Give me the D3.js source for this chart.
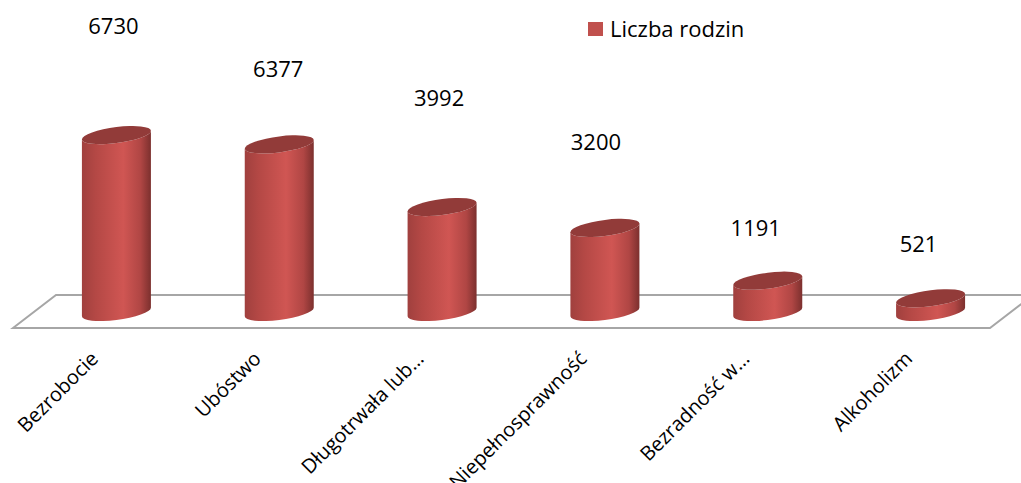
<!DOCTYPE html>
<html>
<head>
<meta charset="utf-8">
<script src="https://cdn.jsdelivr.net/npm/d3@7"></script>
<style>
  html, body { margin: 0; padding: 0; background: #fff; }
  svg { display: block; font-family: "Open Sans", sans-serif; }
</style>
</head>
<body>
<svg id="chart" width="1021" height="483"></svg>
<script>
const categories = ["Bezrobocie", "Ubóstwo", "Długotrwała lub…", "Niepełnosprawność", "Bezradność w…", "Alkoholizm"];
const values = [6730, 6377, 3992, 3200, 1191, 521];
const seriesName = "Liczba rodzin";
// where Excel dropped each data label, relative to the top of its cylinder
const labelShift = [[-3, -101], [-1, -67], [-3, -101], [-9, -78], [-12, -45], [-12, -46]];

const width = 1021, height = 483;
const svg = d3.select("#chart");

const x = d3.scaleBand().domain(categories).range([35, 1012]).padding(0);
const y = d3.scaleLinear().domain([0, 7000]).range([312, 128]);

const rx = 34.5, ry = 8, shear = 0.125;

// gradient for the cylinder body
const defs = svg.append("defs");
const grad = defs.append("linearGradient").attr("id", "cyl").attr("x1", 0).attr("x2", 1).attr("y1", 0).attr("y2", 0);
[[0, "#a0403e"], [0.2, "#b44845"], [0.6, "#d05653"], [0.85, "#b04644"], [1, "#7c302e"]]
  .forEach(([o, c]) => grad.append("stop").attr("offset", o).attr("stop-color", c));

// floor
const floor = { backY: 295, frontY: 328, left: 13, right: 990, depth: 43 };
svg.append("path")
  .attr("d", `M${floor.left},${floor.frontY} L${floor.left + floor.depth},${floor.backY} L${floor.right + floor.depth},${floor.backY} L${floor.right},${floor.frontY} Z`)
  .attr("fill", "#fff")
  .attr("stroke", "#a6a6a6")
  .attr("stroke-width", 2);

// cylinders
const bars = svg.append("g").selectAll("g")
  .data(categories.map((c, i) => ({ c, v: values[i], i })))
  .join("g")
  .attr("transform", d => `translate(${x(d.c) + x.bandwidth() / 2},${y(0)}) matrix(1,${-shear},0,1,0,0)`);

bars.append("path")
  .attr("fill", "url(#cyl)")
  .attr("d", d => {
    const h = y(0) - y(d.v);
    return `M${-rx},${-h} L${-rx},0 A${rx},${ry} 0 0 0 ${rx},0 L${rx},${-h} A${rx},${ry} 0 0 1 ${-rx},${-h} Z`;
  });

bars.append("ellipse")
  .attr("cx", 0)
  .attr("cy", d => y(d.v) - y(0))
  .attr("rx", rx)
  .attr("ry", ry)
  .attr("fill", "#923b39");

// data labels
svg.append("g").selectAll("text")
  .data(categories.map((c, i) => ({ c, v: values[i], i })))
  .join("text")
  .attr("x", d => x(d.c) + x.bandwidth() / 2 + labelShift[d.i][0])
  .attr("y", d => y(d.v) + labelShift[d.i][1])
  .attr("text-anchor", "middle")
  .attr("font-size", 22)
  .attr("fill", "#000")
  .text(d => d.v);

// category labels
svg.append("g").selectAll("text")
  .data(categories)
  .join("text")
  .attr("transform", d => `translate(${x(d) + x.bandwidth() / 2 - 17},360) rotate(-45)`)
  .attr("text-anchor", "end")
  .attr("font-size", 20)
  .attr("fill", "#000")
  .text(d => d);

// legend
const legend = svg.append("g").attr("transform", "translate(588,22)");
legend.append("rect").attr("width", 15).attr("height", 14).attr("fill", "#c0504d");
legend.append("text").attr("x", 22).attr("y", 15).attr("font-size", 22).text(seriesName);
</script>
</body>
</html>
